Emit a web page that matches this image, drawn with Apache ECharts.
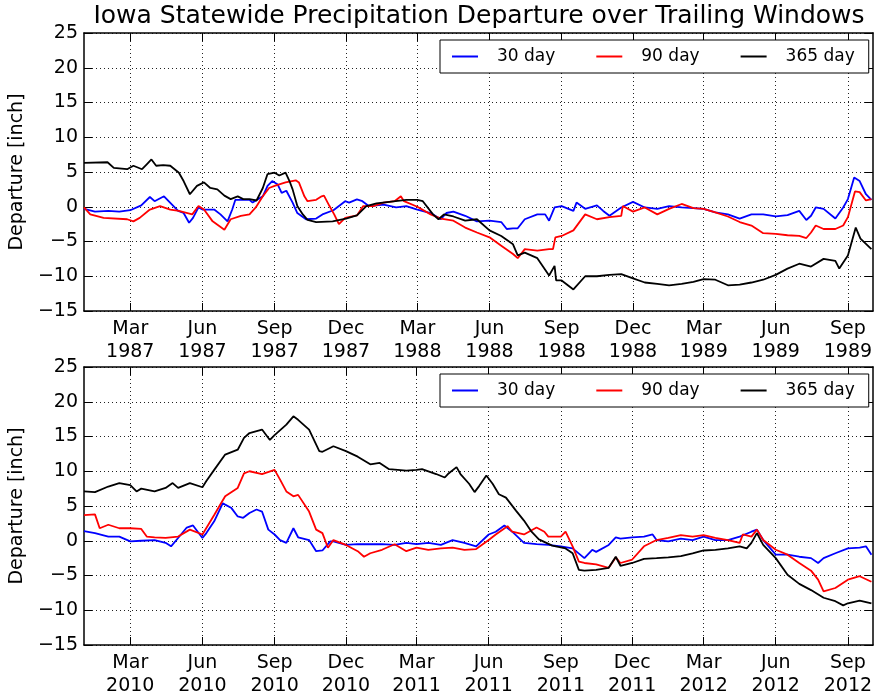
<!DOCTYPE html>
<html>
<head>
<meta charset="utf-8">
<script src="https://cdn.jsdelivr.net/npm/echarts@6/dist/echarts.min.js"></script>
<style>
html, body { margin: 0; padding: 0; background: #fff; }
#chart { width: 882px; height: 700px; }
</style>
</head>
<body>
<div id="chart"></div>
<script>
// 1987-1989 window, departures in inch
var top30 = [
    ['1987-01-01', -0.3], ['1987-01-15', -0.7], ['1987-02-01', -0.6], ['1987-02-15', -0.7], ['1987-03-01', -0.5],
    ['1987-03-15', 0.2], ['1987-03-26', 1.4], ['1987-04-01', 0.8], ['1987-04-13', 1.5], ['1987-05-01', -0.6],
    ['1987-05-08', -0.9], ['1987-05-15', -2.3], ['1987-05-20', -1.6], ['1987-05-27', -0.1], ['1987-06-01', -0.4],
    ['1987-06-16', -0.4], ['1987-06-24', -1.1], ['1987-07-03', -2.1], ['1987-07-09', -0.4], ['1987-07-13', 1.0],
    ['1987-07-31', 1.0], ['1987-08-04', 0.6], ['1987-08-17', 1.5], ['1987-08-23', 3.0], ['1987-08-29', 3.7],
    ['1987-09-05', 3.2], ['1987-09-10', 2.0], ['1987-09-16', 2.3], ['1987-09-24', 0.6], ['1987-09-30', -0.9],
    ['1987-10-11', -1.8], ['1987-10-24', -1.7], ['1987-11-01', -1.1], ['1987-11-15', -0.5], ['1987-11-30', 0.8],
    ['1987-12-05', 0.6], ['1987-12-15', 1.05], ['1987-12-22', 0.8], ['1987-12-30', 0.1], ['1988-01-18', 0.3],
    ['1988-02-03', -0.1], ['1988-02-16', 0.1], ['1988-03-01', -0.4], ['1988-03-18', -0.9], ['1988-03-31', -1.8],
    ['1988-04-07', -0.9], ['1988-04-16', -0.7], ['1988-05-01', -1.3], ['1988-05-16', -2.1], ['1988-06-01', -2.0],
    ['1988-06-16', -2.2], ['1988-06-23', -3.2], ['1988-07-01', -3.1], ['1988-07-07', -3.1], ['1988-07-16', -1.8],
    ['1988-08-01', -1.1], ['1988-08-11', -1.1], ['1988-08-16', -2.0], ['1988-08-23', -0.1], ['1988-09-01', 0.1],
    ['1988-09-16', -0.6], ['1988-09-20', 0.6], ['1988-10-01', -0.3], ['1988-10-16', 0.2], ['1988-10-24', -0.6],
    ['1988-11-01', -1.3], ['1988-11-16', -0.1], ['1988-12-01', 0.7], ['1988-12-16', -0.1], ['1989-01-01', -0.3],
    ['1989-01-16', 0.1], ['1989-02-01', -0.1], ['1989-02-16', -0.2], ['1989-03-01', -0.3], ['1989-03-16', -0.8],
    ['1989-04-01', -1.1], ['1989-04-16', -1.7], ['1989-05-01', -1.1], ['1989-05-16', -1.1], ['1989-06-01', -1.4],
    ['1989-06-16', -1.2], ['1989-07-01', -0.6], ['1989-07-10', -1.9], ['1989-07-16', -1.3], ['1989-07-22', -0.1],
    ['1989-08-01', -0.3], ['1989-08-16', -1.7], ['1989-08-26', -0.1], ['1989-09-01', 1.1], ['1989-09-09', 4.2],
    ['1989-09-16', 3.7], ['1989-09-24', 1.8], ['1989-10-01', 1.0]
];
var top90 = [
    ['1987-01-01', -0.1], ['1987-01-09', -1.1], ['1987-01-26', -1.6], ['1987-02-25', -1.8], ['1987-03-05', -2.1],
    ['1987-03-13', -1.6], ['1987-03-26', -0.4], ['1987-04-08', 0.1], ['1987-04-21', -0.4], ['1987-05-02', -0.6],
    ['1987-05-19', -1.1], ['1987-05-27', 0.1], ['1987-06-03', -0.4], ['1987-06-14', -2.1], ['1987-06-29', -3.3],
    ['1987-07-07', -1.8], ['1987-07-20', -1.3], ['1987-07-31', -1.1], ['1987-08-08', -0.1], ['1987-08-17', 1.5],
    ['1987-08-25', 2.7], ['1987-09-01', 3.0], ['1987-09-15', 3.5], ['1987-09-28', 3.8], ['1987-10-02', 3.5],
    ['1987-10-09', 1.5], ['1987-10-13', 0.8], ['1987-10-24', 1.0], ['1987-10-31', 1.5], ['1987-11-03', 1.6],
    ['1987-11-10', 0.1], ['1987-11-16', -1.1], ['1987-11-22', -2.5], ['1987-11-30', -1.6], ['1987-12-15', -1.25],
    ['1987-12-23', 0.1], ['1988-01-05', 0.1], ['1988-01-18', 0.6], ['1988-02-01', 0.8], ['1988-02-09', 1.5],
    ['1988-02-13', 0.8], ['1988-03-01', 0.0], ['1988-03-18', -1.1], ['1988-03-31', -1.7], ['1988-04-16', -2.0],
    ['1988-05-01', -3.0], ['1988-05-16', -3.7], ['1988-06-01', -4.4], ['1988-06-16', -5.6], ['1988-07-01', -6.8],
    ['1988-07-07', -7.4], ['1988-07-16', -6.1], ['1988-08-01', -6.3], ['1988-08-16', -6.1], ['1988-08-21', -6.1],
    ['1988-08-24', -4.4], ['1988-09-01', -4.2], ['1988-09-16', -3.4], ['1988-10-01', -1.1], ['1988-10-16', -1.8],
    ['1988-11-01', -1.5], ['1988-11-16', -1.3], ['1988-11-18', 0.1], ['1988-12-01', -0.7], ['1988-12-16', -0.1],
    ['1989-01-01', -1.1], ['1989-01-16', -0.3], ['1989-02-01', 0.4], ['1989-02-16', -0.2], ['1989-03-01', -0.3],
    ['1989-03-16', -0.8], ['1989-04-01', -1.4], ['1989-04-16', -2.2], ['1989-05-01', -2.7], ['1989-05-16', -3.8],
    ['1989-06-01', -3.9], ['1989-06-16', -4.1], ['1989-07-01', -4.2], ['1989-07-10', -4.5], ['1989-07-16', -3.7],
    ['1989-07-22', -2.7], ['1989-08-01', -3.2], ['1989-08-16', -3.2], ['1989-08-26', -2.7], ['1989-09-01', -1.5],
    ['1989-09-10', 2.2], ['1989-09-16', 2.1], ['1989-09-24', 0.9], ['1989-10-01', 1.1]
];
var top365 = [
    ['1987-01-01', 6.3], ['1987-01-31', 6.4], ['1987-02-08', 5.6], ['1987-02-25', 5.4], ['1987-03-05', 5.9],
    ['1987-03-16', 5.4], ['1987-03-22', 6.1], ['1987-03-28', 6.8], ['1987-04-03', 5.9], ['1987-04-12', 6.0],
    ['1987-04-21', 5.9], ['1987-05-02', 4.9], ['1987-05-08', 3.7], ['1987-05-16', 1.8], ['1987-05-25', 3.0],
    ['1987-06-03', 3.5], ['1987-06-11', 2.7], ['1987-06-20', 2.5], ['1987-06-29', 1.6], ['1987-07-07', 1.1],
    ['1987-07-16', 1.5], ['1987-07-23', 1.1], ['1987-07-31', 1.1], ['1987-08-09', 0.9], ['1987-08-17', 2.7],
    ['1987-08-23', 4.7], ['1987-09-01', 4.9], ['1987-09-07', 4.5], ['1987-09-15', 4.9], ['1987-09-20', 3.7],
    ['1987-09-24', 2.5], ['1987-09-30', 0.1], ['1987-10-07', -1.1], ['1987-10-13', -1.9], ['1987-10-24', -2.2],
    ['1987-11-14', -2.1], ['1987-12-01', -1.7], ['1987-12-15', -1.25], ['1987-12-27', 0.1], ['1988-01-09', 0.5],
    ['1988-02-16', 1.0], ['1988-03-01', 1.0], ['1988-03-08', 0.8], ['1988-03-21', -1.1], ['1988-03-28', -1.8],
    ['1988-04-04', -1.1], ['1988-04-16', -1.4], ['1988-05-01', -2.0], ['1988-05-16', -1.8],
    ['1988-06-01', -3.4], ['1988-06-16', -4.2], ['1988-07-01', -5.4], ['1988-07-07', -7.0], ['1988-07-16', -6.6],
    ['1988-08-01', -7.4], ['1988-08-16', -9.9], ['1988-08-23', -8.5], ['1988-08-25', -10.6], ['1988-09-01', -10.6],
    ['1988-09-16', -11.9], ['1988-10-01', -10.0], ['1988-10-16', -10.0], ['1988-11-01', -9.8], ['1988-11-16', -9.7],
    ['1988-12-01', -10.3], ['1988-12-16', -10.9], ['1989-01-01', -11.1], ['1989-01-16', -11.3], ['1989-02-01', -11.1],
    ['1989-02-16', -10.8], ['1989-03-01', -10.4], ['1989-03-16', -10.5], ['1989-04-01', -11.3], ['1989-04-16', -11.2],
    ['1989-05-01', -10.9], ['1989-05-16', -10.5], ['1989-06-01', -9.8], ['1989-06-16', -8.9], ['1989-07-01', -8.2],
    ['1989-07-16', -8.6], ['1989-08-01', -7.5], ['1989-08-16', -7.8], ['1989-08-21', -8.9], ['1989-09-01', -7.0],
    ['1989-09-11', -3.0], ['1989-09-17', -4.6], ['1989-10-01', -6.1]
];

// 2010-2012 window
var bottom30 = [
    ['2010-01-01', 1.4], ['2010-01-15', 1.1], ['2010-02-01', 0.6], ['2010-02-15', 0.6], ['2010-03-01', -0.1],
    ['2010-03-15', 0.0], ['2010-04-01', 0.1], ['2010-04-15', -0.3], ['2010-04-22', -0.8], ['2010-05-01', 0.4],
    ['2010-05-12', 1.9], ['2010-05-20', 2.2], ['2010-06-01', 0.4], ['2010-06-06', 1.1], ['2010-06-16', 2.8],
    ['2010-06-27', 5.4], ['2010-06-30', 5.2], ['2010-07-08', 4.7], ['2010-07-16', 3.5], ['2010-07-23', 3.3],
    ['2010-07-31', 4.0], ['2010-08-09', 4.5], ['2010-08-16', 4.2], ['2010-08-24', 1.6], ['2010-09-01', 0.9],
    ['2010-09-08', 0.1], ['2010-09-16', -0.3], ['2010-09-25', 1.8], ['2010-10-01', 0.5], ['2010-10-15', 0.1],
    ['2010-10-24', -1.5], ['2010-11-01', -1.4], ['2010-11-11', -0.1], ['2010-11-15', -0.1], ['2010-12-01', -0.6],
    ['2010-12-16', -0.5], ['2011-01-01', -0.5], ['2011-01-16', -0.5], ['2011-02-01', -0.6], ['2011-02-16', -0.3],
    ['2011-03-01', -0.5], ['2011-03-16', -0.3], ['2011-04-01', -0.6], ['2011-04-16', 0.1], ['2011-05-01', -0.3],
    ['2011-05-16', -0.8], ['2011-06-01', 0.9], ['2011-06-10', 1.3], ['2011-06-21', 2.2], ['2011-07-01', 1.3],
    ['2011-07-16', -0.3], ['2011-08-01', -0.5], ['2011-08-16', -0.6], ['2011-09-01', -0.8], ['2011-09-16', -1.1],
    ['2011-10-01', -2.5], ['2011-10-11', -1.3], ['2011-10-16', -1.6], ['2011-11-01', -0.6], ['2011-11-10', 0.5],
    ['2011-11-16', 0.3], ['2011-12-01', 0.5], ['2011-12-16', 0.6], ['2011-12-27', 0.9], ['2012-01-01', 0.1],
    ['2012-01-16', -0.1], ['2012-02-01', 0.3], ['2012-02-16', 0.1], ['2012-03-01', 0.6], ['2012-03-16', 0.1],
    ['2012-04-01', 0.1], ['2012-04-16', 0.6], ['2012-05-01', 1.3], ['2012-05-08', 1.6], ['2012-05-16', 0.1],
    ['2012-06-01', -2.0], ['2012-06-16', -2.0], ['2012-07-01', -2.3], ['2012-07-16', -2.5], ['2012-07-25', -3.2],
    ['2012-08-01', -2.5], ['2012-08-16', -1.8], ['2012-09-01', -1.1], ['2012-09-16', -1.0], ['2012-09-24', -0.8],
    ['2012-10-01', -2.0]
];
var bottom90 = [
    ['2010-01-01', 3.7], ['2010-01-15', 3.8], ['2010-01-21', 1.8], ['2010-02-01', 2.3], ['2010-02-15', 1.8],
    ['2010-03-01', 1.8], ['2010-03-15', 1.7], ['2010-03-22', 0.6], ['2010-04-01', 0.5], ['2010-04-15', 0.4],
    ['2010-05-01', 0.6], ['2010-05-16', 1.6], ['2010-06-01', 0.9], ['2010-06-16', 3.7], ['2010-06-30', 6.4],
    ['2010-07-16', 7.6], ['2010-07-24', 9.7], ['2010-07-31', 10.0], ['2010-08-16', 9.6], ['2010-09-01', 10.2],
    ['2010-09-08', 8.8], ['2010-09-16', 7.1], ['2010-09-25', 6.4], ['2010-10-01', 6.6], ['2010-10-15', 4.2],
    ['2010-10-24', 1.6], ['2010-11-01', 1.1], ['2010-11-08', -1.0], ['2010-11-15', 0.1], ['2010-12-01', -0.6],
    ['2010-12-16', -1.5], ['2010-12-24', -2.3], ['2011-01-01', -1.8], ['2011-01-16', -1.3], ['2011-02-01', -0.5],
    ['2011-02-16', -1.5], ['2011-03-01', -1.0], ['2011-03-16', -1.3], ['2011-04-01', -1.1], ['2011-04-16', -1.0],
    ['2011-05-01', -1.3], ['2011-05-16', -1.2], ['2011-06-01', 0.1], ['2011-06-10', 0.9], ['2011-06-25', 2.1],
    ['2011-07-01', 1.3], ['2011-07-16', 0.9], ['2011-08-01', 1.9], ['2011-08-11', 1.3], ['2011-08-16', 0.6],
    ['2011-09-01', 0.6], ['2011-09-07', 1.3], ['2011-09-16', -0.8], ['2011-09-24', -3.0], ['2011-10-01', -3.2],
    ['2011-10-16', -3.4], ['2011-11-01', -3.9], ['2011-11-10', -2.4], ['2011-11-16', -3.2], ['2011-12-01', -2.7],
    ['2011-12-16', -0.8], ['2012-01-01', 0.1], ['2012-01-16', 0.4], ['2012-02-01', 0.8], ['2012-02-16', 0.6],
    ['2012-03-01', 0.8], ['2012-03-16', 0.4], ['2012-04-01', 0.1], ['2012-04-16', -0.3], ['2012-04-20', 0.9],
    ['2012-05-01', 0.6], ['2012-05-08', 1.6], ['2012-05-16', 0.1], ['2012-06-01', -1.3], ['2012-06-16', -2.0],
    ['2012-07-01', -3.2], ['2012-07-16', -4.3], ['2012-07-25', -5.6], ['2012-08-01', -7.3], ['2012-08-16', -6.8],
    ['2012-09-01', -5.6], ['2012-09-16', -5.1], ['2012-10-01', -5.9]
];
var bottom365 = [
    ['2010-01-01', 7.1], ['2010-01-15', 7.0], ['2010-02-01', 7.8], ['2010-02-15', 8.3], ['2010-03-01', 8.0],
    ['2010-03-09', 7.1], ['2010-03-15', 7.5], ['2010-04-01', 7.1], ['2010-04-15', 7.6], ['2010-04-24', 8.3],
    ['2010-05-01', 7.6], ['2010-05-16', 8.3], ['2010-06-01', 7.7], ['2010-06-06', 8.6], ['2010-06-16', 10.2],
    ['2010-06-30', 12.4], ['2010-07-16', 13.1], ['2010-07-24', 14.8], ['2010-07-31', 15.5], ['2010-08-16', 16.0],
    ['2010-08-26', 14.5], ['2010-09-01', 15.2], ['2010-09-16', 16.7], ['2010-09-25', 17.9], ['2010-10-01', 17.4],
    ['2010-10-15', 16.0], ['2010-10-28', 12.9], ['2010-11-01', 12.8], ['2010-11-15', 13.6], ['2010-12-01', 12.9],
    ['2010-12-16', 12.1], ['2011-01-01', 11.0], ['2011-01-13', 11.2], ['2011-01-25', 10.3], ['2011-02-16', 10.1],
    ['2011-03-01', 10.2], ['2011-03-08', 10.3], ['2011-03-26', 9.6], ['2011-04-06', 9.1], ['2011-04-10', 9.6],
    ['2011-04-21', 10.6], ['2011-04-26', 9.6], ['2011-05-07', 8.2], ['2011-05-14', 7.0], ['2011-05-20', 7.9],
    ['2011-05-29', 9.4], ['2011-06-06', 8.2], ['2011-06-14', 6.7], ['2011-06-23', 6.2], ['2011-07-06', 4.3],
    ['2011-07-16', 2.9], ['2011-07-25', 1.4], ['2011-08-04', 0.2], ['2011-08-21', -0.7], ['2011-09-07', -1.1],
    ['2011-09-16', -1.8], ['2011-09-24', -4.2],
    ['2011-10-01', -4.3], ['2011-10-16', -4.2], ['2011-11-01', -3.9], ['2011-11-10', -2.3], ['2011-11-16', -3.6],
    ['2011-12-01', -3.2], ['2011-12-16', -2.6], ['2012-01-01', -2.5], ['2012-01-16', -2.4], ['2012-02-01', -2.2],
    ['2012-02-16', -1.8], ['2012-03-01', -1.4], ['2012-03-16', -1.3], ['2012-04-01', -1.1], ['2012-04-16', -0.8],
    ['2012-04-25', -1.1], ['2012-05-01', -0.3], ['2012-05-08', 1.1], ['2012-05-16', -0.6], ['2012-06-01', -2.5],
    ['2012-06-16', -4.9], ['2012-07-01', -6.2], ['2012-07-16', -7.1], ['2012-08-01', -8.2], ['2012-08-16', -8.7],
    ['2012-08-26', -9.3], ['2012-09-01', -9.0], ['2012-09-16', -8.6], ['2012-10-01', -9.0]
];

// 刻度
var topTicks = ['1987-03-01', '1987-06-01', '1987-09-01', '1987-12-01', '1988-03-01', '1988-06-01',
    '1988-09-01', '1988-12-01', '1989-03-01', '1989-06-01', '1989-09-01'];
var bottomTicks = ['2010-03-01', '2010-06-01', '2010-09-01', '2010-12-01', '2011-03-01', '2011-06-01',
    '2011-09-01', '2011-12-01', '2012-03-01', '2012-06-01', '2012-09-01'];
var topRange = ['1987-01-01', '1989-10-03'];
var bottomRange = ['2010-01-01', '2012-10-03'];
var monthNames = ['Jan', 'Feb', 'Mar', 'Apr', 'May', 'Jun', 'Jul', 'Aug', 'Sep', 'Oct', 'Nov', 'Dec'];
var seriesNames = ['30 day', '90 day', '365 day'];
var seriesColors = ['#0000ff', '#ff0000', '#000000'];

var FONT = 'DejaVu Sans';

function toTime(s) {
    var p = s.split('-');
    return new Date(+p[0], +p[1] - 1, +p[2]).getTime();
}

function toPoints(arr) {
    return arr.map(function (d) { return [toTime(d[0]), d[1]]; });
}

/**
 * @desc x轴 (bottom: labels, top: ticks only)
 */
function makeXAxis(gridIndex, range, ticks, isTop) {
    var tickValues = ticks.map(toTime);
    return {
        type: 'value',
        gridIndex: gridIndex,
        position: isTop ? 'top' : 'bottom',
        min: toTime(range[0]),
        max: toTime(range[1]),
        axisLine: { show: true, onZero: false, lineStyle: { color: '#000', width: 1.5 } },
        axisTick: { show: true, inside: true, length: 8, customValues: tickValues, lineStyle: { color: '#000' } },
        minorTick: { show: false },
        axisLabel: {
            show: !isTop,
            customValues: tickValues,
            margin: 7,
            color: '#000',
            fontFamily: FONT,
            fontSize: 19,
            lineHeight: 23,
            align: 'center',
            showMinLabel: true,
            showMaxLabel: true,
            formatter: function (v) {
                var d = new Date(v);
                return monthNames[d.getMonth()] + '\n' + d.getFullYear();
            }
        },
        splitLine: {
            show: !isTop,
            lineStyle: { color: '#222', width: 1, type: [1, 3] }
        }
    };
}

/**
 * @desc y轴
 */
function makeYAxis(gridIndex, isRight) {
    return {
        type: 'value',
        gridIndex: gridIndex,
        position: isRight ? 'right' : 'left',
        min: -15,
        max: 25,
        interval: 5,
        name: isRight ? '' : 'Departure [inch]',
        nameLocation: 'middle',
        nameGap: 57,
        nameRotate: 90,
        nameTextStyle: { color: '#000', fontFamily: FONT, fontSize: 19 },
        axisLine: { show: true, onZero: false, lineStyle: { color: '#000', width: 1.5 } },
        axisTick: { show: true, inside: true, length: 8, lineStyle: { color: '#000' } },
        axisLabel: {
            show: !isRight,
            margin: 6,
            color: '#000',
            fontFamily: FONT,
            fontSize: 19,
            formatter: function (v) { return String(v).replace('-', '\u2212'); }
        },
        splitLine: {
            show: !isRight,
            lineStyle: { color: '#222', width: 1, type: [1, 3] }
        }
    };
}

function makeLegend(topPx) {
    return {
        data: seriesNames,
        left: 440,
        top: topPx,
        orient: 'horizontal',
        backgroundColor: '#fff',
        borderColor: '#000',
        borderWidth: 1,
        borderRadius: 0,
        padding: [8, 14, 8, 12],
        icon: 'rect',
        itemWidth: 26,
        itemHeight: 2,
        itemGap: 41,
        selectedMode: false,
        textStyle: { color: '#000', fontFamily: FONT, fontSize: 17, padding: [0, 0, 0, 14] }
    };
}

function makeSeries(data, idx, axisIdx) {
    return {
        type: 'line',
        name: seriesNames[idx],
        xAxisIndex: axisIdx,
        yAxisIndex: axisIdx,
        data: toPoints(data),
        showSymbol: false,
        symbol: 'none',
        color: seriesColors[idx],
        lineStyle: { color: seriesColors[idx], width: 1.8 },
        z: 3 + idx,
        animation: false
    };
}

var myChart = echarts.init(document.getElementById('chart'));

var option = {
    backgroundColor: '#fff',
    animation: false,
    title: {
        text: 'Iowa Statewide Precipitation Departure over Trailing Windows',
        left: 479,
        top: 4,
        padding: 0,
        textAlign: 'center',
        textStyle: { color: '#000', fontFamily: FONT, fontSize: 25, fontWeight: 'normal' }
    },
    legend: [makeLegend(40), makeLegend(374)],
    grid: [
        { left: 84, right: 9, top: 33, height: 278, containLabel: false, outerBoundsMode: 'none' },
        { left: 84, right: 9, top: 367, height: 278, containLabel: false, outerBoundsMode: 'none' }
    ],
    xAxis: [
        makeXAxis(0, topRange, topTicks, false),
        makeXAxis(0, topRange, topTicks, true),
        makeXAxis(1, bottomRange, bottomTicks, false),
        makeXAxis(1, bottomRange, bottomTicks, true)
    ],
    yAxis: [
        makeYAxis(0, false),
        makeYAxis(0, true),
        makeYAxis(1, false),
        makeYAxis(1, true)
    ],
    series: [
        makeSeries(top30, 0, 0),
        makeSeries(top90, 1, 0),
        makeSeries(top365, 2, 0),
        makeSeries(bottom30, 0, 2),
        makeSeries(bottom90, 1, 2),
        makeSeries(bottom365, 2, 2)
    ]
};

myChart.setOption(option);
</script>
</body>
</html>
